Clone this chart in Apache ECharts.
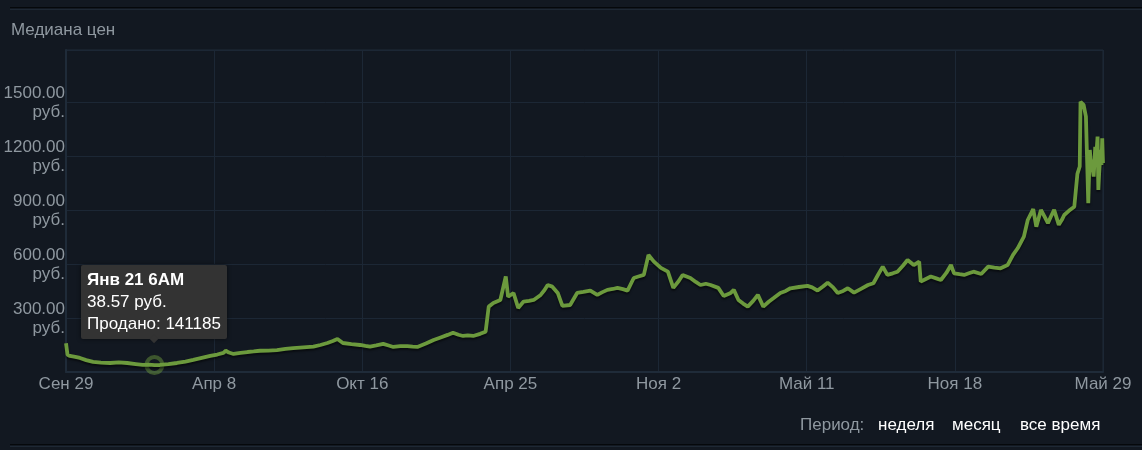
<!DOCTYPE html>
<html>
<head>
<meta charset="utf-8">
<script src="https://cdn.jsdelivr.net/npm/echarts@6/dist/echarts.min.js"></script>
<style>
html,body{margin:0;padding:0;background:#121821;}
#c{width:1142px;height:450px;}
</style>
</head>
<body>
<div id="c"></div>
<script>
// x ticks (every 191 days starting Sep 29)
const xTickLabels = ['Сен 29','Апр 8','Окт 16','Апр 25','Ноя 2','Май 11','Ноя 18','Май 29'];
const yTickValues = [300, 600, 900, 1200, 1500];
// day offset from Sep 29 (rows of 10) and median price (руб.) in matching rows
const days = [
  0, 2, 5, 12, 18, 26, 35, 45, 57, 68,
  79, 90, 99, 107, 114, 121, 132, 143, 154, 164,
  175, 186, 195, 203, 206, 210, 216, 225, 234, 242,
  250, 261, 272, 283, 293, 306, 319, 328, 337, 344,
  350, 357, 368, 379, 386, 392, 400, 409, 416, 422,
  431, 440, 447, 453, 464, 474, 483, 492, 499, 506,
  512, 518, 525, 534, 541, 545, 551, 560, 567, 570,
  577, 583, 590, 597, 603, 612, 617, 621, 627, 634,
  640, 650, 659, 667, 676, 685, 691, 698, 705, 711,
  718, 724, 732, 738, 745, 751, 758, 767, 776, 783,
  790, 795, 805, 812, 818, 825, 831, 841, 848, 857,
  861, 867, 873, 879, 886, 892, 899, 906, 912, 921,
  928, 934, 945, 956, 962, 969, 976, 982, 989, 995,
  1002, 1008, 1016, 1025, 1034, 1041, 1047, 1053, 1059, 1066,
  1072, 1079, 1085, 1093, 1100, 1102, 1108, 1115, 1122, 1128,
  1135, 1141, 1145, 1152, 1158, 1164, 1170, 1180, 1189, 1197,
  1205, 1214, 1221, 1227, 1235, 1240, 1247, 1251, 1257, 1262,
  1266, 1270, 1274, 1280, 1284, 1287, 1293, 1300, 1304, 1307,
  1308, 1310, 1312, 1315, 1318, 1320, 1321, 1323, 1325, 1327,
  1328, 1330, 1331, 1332, 1334, 1335, 1336, 1337
];
const prices = [
  160, 95, 89, 84, 78, 66, 56, 52, 50, 53,
  50, 44, 39, 41, 38.57, 39, 44, 50, 58, 67,
  78, 89, 97, 106, 118, 108, 100, 106, 111, 114,
  118, 119, 122, 128, 133, 137, 141, 150, 161, 172,
  183, 161, 155, 150, 145, 141, 148, 156, 147, 139,
  144, 144, 141, 139, 158, 178, 192, 206, 218, 207,
  200, 204, 200, 212, 224, 363, 383, 400, 530, 418,
  439, 356, 391, 395, 400, 428, 455, 483, 474, 439,
  367, 372, 439, 445, 452, 428, 442, 456, 461, 467,
  460, 452, 522, 530, 539, 650, 613, 578, 557, 467,
  505, 539, 522, 500, 483, 490, 483, 467, 422, 439,
  456, 400, 380, 363, 395, 428, 363, 390, 409, 439,
  450, 465, 472, 478, 470, 452, 475, 496, 470, 439,
  450, 465, 441, 462, 483, 493, 540, 585, 539, 548,
  557, 590, 622, 594, 613, 502, 515, 530, 520, 511,
  550, 594, 548, 543, 539, 548, 557, 544, 585, 580,
  576, 594, 650, 687, 752, 844, 904, 807, 900, 860,
  826, 865, 900, 817, 845, 872, 895, 918, 1100, 1141,
  1500, 1493, 1483, 1418, 937, 1233, 1180, 1150, 1085, 1250,
  1180, 1307, 1011, 1100, 1233, 1150, 1298, 1160
];
// highlighted point (tooltip)
const tipDay = [114];
const tipPrice = [38.57];
const tipLines = ['Янв 21 6AM', '38.57 руб.', 'Продано: 141185'];
const periodLabel = 'Период:';
const periodOptions = ['неделя', 'месяц', 'все время'];

const FONT = 'Arial, "Liberation Sans", sans-serif';
const DAY_STEP = 191;
const chart = echarts.init(document.getElementById('c'), null, {renderer: 'canvas'});
const lineData = days.map((d, i) => [d, prices[i]]);
const tipData = tipDay.map((d, i) => [d, tipPrice[i]]);

const periodX = [878, 952, 1020];
chart.setOption({
  animation: false,
  backgroundColor: '#121821',
  title: {
    text: 'Медиана цен', left: 6, top: 17,
    textStyle: {color: '#8f98a0', fontSize: 17, fontWeight: 'normal', fontFamily: FONT}
  },
  grid: {left: 66, right: 39, top: 50, bottom: 78, show: true, borderColor: '#1f2b39', borderWidth: 1},
  xAxis: {
    type: 'value', min: 0, max: DAY_STEP * 7, interval: DAY_STEP,
    axisLine: {show: true, lineStyle: {color: '#1f2b39', width: 2}},
    axisTick: {show: false},
    splitLine: {show: true, lineStyle: {color: '#1c2735', width: 1}},
    axisLabel: {
      color: '#8f98a0', fontSize: 17, fontFamily: FONT, margin: 4,
      showMinLabel: true, showMaxLabel: true,
      formatter: v => xTickLabels[Math.round(v / DAY_STEP)] || ''
    }
  },
  yAxis: {
    type: 'value', min: 0, max: 1788, interval: 300,
    axisLine: {show: true, lineStyle: {color: '#1f2b39', width: 2}},
    axisTick: {show: false},
    splitLine: {show: true, lineStyle: {color: '#1c2735', width: 1}},
    axisLabel: {
      color: '#8f98a0', fontSize: 17, fontFamily: FONT, margin: 1,
      showMinLabel: false, showMaxLabel: false,
      rich: {
        v: {fontSize: 17, fontFamily: FONT, color: '#8f98a0', lineHeight: 21, padding: [4, 0, 0, 0], align: 'right'},
        u: {fontSize: 17, fontFamily: FONT, color: '#8f98a0', lineHeight: 21, align: 'right'}
      },
      formatter: v => yTickValues.indexOf(v) >= 0 ? '{v|' + v.toFixed(2) + '}\n{u|руб.}' : ''
    }
  },
  tooltip: {
    trigger: 'item', triggerOn: 'none', alwaysShowContent: true,
    position: 'top',
    backgroundColor: '#333333', borderWidth: 0, padding: [4, 6],
    extraCssText: 'border-radius:2px;box-shadow:0 0 4px rgba(0,0,0,0.6);line-height:22px;margin-top:-8px;',
    textStyle: {color: '#ffffff', fontSize: 17, fontFamily: FONT},
    formatter: () => '<b>' + tipLines[0] + '</b><br>' + tipLines[1] + '<br>' + tipLines[2]
  },
  series: [
    {
      type: 'line', data: lineData, showSymbol: false, silent: true,
      lineStyle: {color: '#6c9a3d', width: 3.8, shadowColor: 'rgba(0,0,0,0.5)', shadowBlur: 2, shadowOffsetY: 2},
      itemStyle: {color: '#6c9a3d'}
    },
    {
      type: 'scatter', data: tipData, symbolSize: 16, clip: false,
      itemStyle: {color: 'rgba(0,0,0,0)', borderColor: 'rgba(108,154,61,0.6)', borderWidth: 4}
    }
  ],
  graphic: [
    {type: 'line', shape: {x1: 10, y1: 7.5, x2: 1142, y2: 7.5}, style: {stroke: '#05080b', lineWidth: 1}},
    {type: 'line', shape: {x1: 10, y1: 9.5, x2: 1142, y2: 9.5}, style: {stroke: '#1e2834', lineWidth: 1}},
    {type: 'line', shape: {x1: 10, y1: 444.5, x2: 1142, y2: 444.5}, style: {stroke: '#05080b', lineWidth: 1}},
    {type: 'line', shape: {x1: 10, y1: 446.5, x2: 1142, y2: 446.5}, style: {stroke: '#1e2834', lineWidth: 1}},
    {type: 'text', x: 800, y: 425, style: {text: periodLabel, fill: '#8f98a0', font: '17px ' + FONT, textVerticalAlign: 'middle'}},
    ...periodOptions.map((t, i) => ({type: 'text', x: periodX[i], y: 425, style: {text: t, fill: '#ffffff', font: '17px ' + FONT, textVerticalAlign: 'middle'}}))
  ]
});
chart.dispatchAction({type: 'showTip', seriesIndex: 1, dataIndex: 0});
</script>
</body>
</html>
